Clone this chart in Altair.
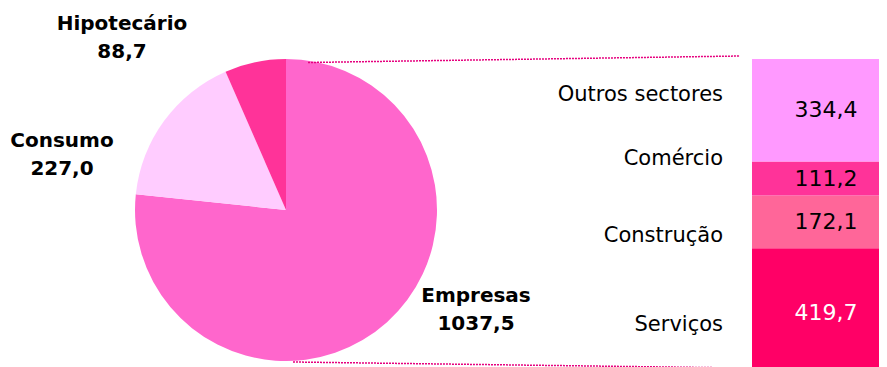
import altair as alt
import pandas as pd

# ---- data ----
pie_cats = ["Empresas", "Consumo", "Hipotecário"]
pie_vals = [1037.5, 227.0, 88.7]

bar_cats = ["Serviços", "Construção", "Comércio", "Outros sectores"]  # bottom -> top
bar_vals = [419.7, 172.1, 111.2, 334.4]

pie_colors = ["#FF66CC", "#FFCCFF", "#FF3399"]
bar_colors = ["#FF0066", "#FF6699", "#FF3399", "#FF99FF"]

def fmt(v):
    return f"{v:.1f}".replace(".", ",")

# ---- layout constants (chart pixel coords) ----
W, H = 871, 359
CX, CY, R = 278, 202, 151
BAR_X0, BAR_X1 = 744, 871
Y_RANGE = [369, 51]
FONT = "DejaVu Sans"

pie_df = pd.DataFrame({"cat": pie_cats, "val": pie_vals, "ord": list(range(len(pie_cats)))})

total = sum(bar_vals)
px_per_unit = (Y_RANGE[0] - Y_RANGE[1]) / total
starts, ends = [], []
acc = 0.0
for v in bar_vals:
    starts.append(acc)
    acc += v
    ends.append(acc)
# label offsets (pixels, positive = downward) for category names
label_dy = {"Serviços": 12, "Construção": 14, "Comércio": -20, "Outros sectores": -15}
bar_df = pd.DataFrame({
    "cat": bar_cats,
    "val": bar_vals,
    "start": starts,
    "end": ends,
})
bar_df["mid"] = (bar_df["start"] + bar_df["end"]) / 2
bar_df["label"] = bar_df["val"].map(fmt)
bar_df["cat_y"] = bar_df["mid"] - bar_df["cat"].map(label_dy) / px_per_unit
bar_df["white"] = bar_df["cat"] == "Serviços"

yscale = alt.Scale(domain=[0, total], range=Y_RANGE)

pie = alt.Chart(pie_df).mark_arc(radius=R).encode(
    theta=alt.Theta("val:Q", stack=True),
    order=alt.Order("ord:Q"),
    color=alt.Color("cat:N", scale=alt.Scale(domain=pie_cats, range=pie_colors), legend=None),
    x=alt.value(CX),
    y=alt.value(CY),
)

bars = alt.Chart(bar_df).mark_bar().encode(
    x=alt.value(BAR_X0),
    x2=alt.value(BAR_X1),
    y=alt.Y("start:Q", scale=yscale, axis=None),
    y2="end:Q",
    color=alt.Color("cat:N", scale=alt.Scale(domain=bar_cats, range=bar_colors), legend=None),
)

bar_vals_txt = alt.Chart(bar_df).mark_text(
    font=FONT, fontSize=22, align="center", baseline="middle"
).encode(
    x=alt.value(818),
    y=alt.Y("mid:Q", scale=yscale, axis=None),
    text="label:N",
    color=alt.condition("datum.white", alt.value("white"), alt.value("black")),
)

bar_cat_txt = alt.Chart(bar_df).mark_text(
    font=FONT, fontSize=21, align="right", baseline="middle", color="black"
).encode(
    x=alt.value(715),
    y=alt.Y("cat_y:Q", scale=yscale, axis=None),
    text="cat:N",
)

# pie labels (manual placement like the original)
pie_lab_pos = {"Hipotecário": (114, 22), "Consumo": (54, 139), "Empresas": (468, 294)}
pie_lab_df = pd.DataFrame({
    "txt": [f"{c}\n{fmt(v)}" for c, v in zip(pie_cats, pie_vals)],
    "cat": pie_cats,
})
pie_labels = []
for c in pie_cats:
    px, py = pie_lab_pos[c]
    pie_labels.append(
        alt.Chart(pie_lab_df[pie_lab_df["cat"] == c]).mark_text(
            font=FONT, fontSize=20, fontWeight="bold", align="center",
            baseline="alphabetic", lineBreak="\n", lineHeight=28, color="black"
        ).encode(x=alt.value(px), y=alt.value(py), text="txt:N")
    )

conn_df = pd.DataFrame({"k": ["top", "bottom"]})
line_top = alt.Chart(conn_df.iloc[[0]]).mark_rule(
    color="#E6007E", strokeWidth=1.5, strokeDash=[2, 1]
).encode(x=alt.value(300), y=alt.value(54.5), x2=alt.value(732), y2=alt.value(48))
line_bot = alt.Chart(conn_df.iloc[[1]]).mark_rule(
    color="#E6007E", strokeWidth=1.5, strokeDash=[2, 1]
).encode(x=alt.value(285), y=alt.value(354), x2=alt.value(732), y2=alt.value(360))

chart = alt.layer(
    pie, bars, bar_vals_txt, bar_cat_txt, line_top, line_bot, *pie_labels
).resolve_scale(color="independent").properties(
    width=W, height=H, autosize=alt.AutoSizeParams(type="none"), padding=0
).configure_view(stroke=None)

chart.save("out.html", embed_options={"renderer": "svg", "actions": False})
